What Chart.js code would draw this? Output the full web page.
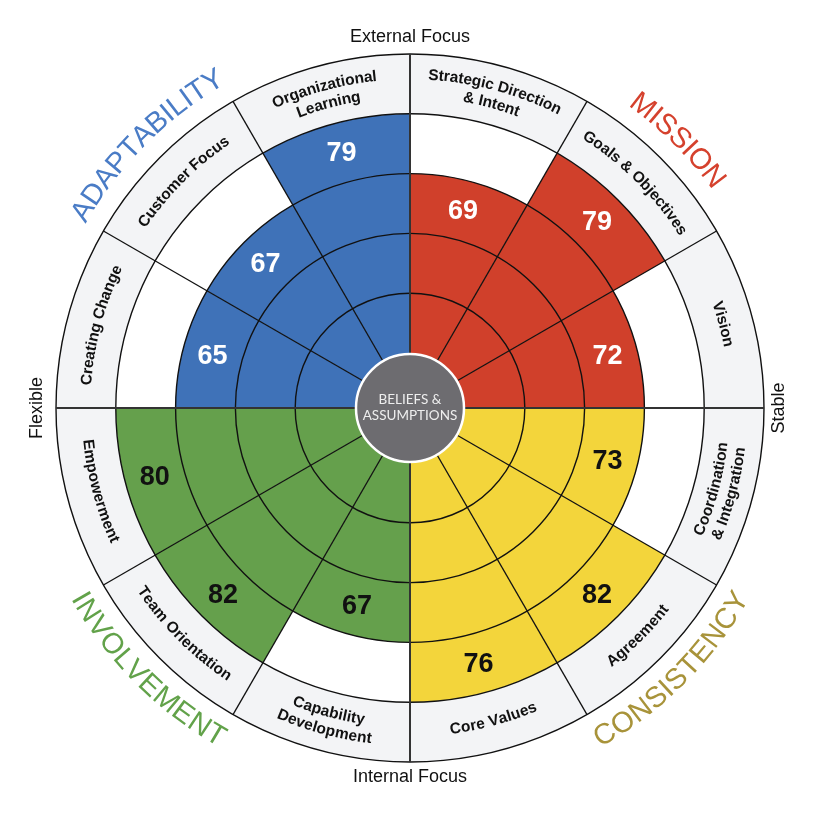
<!DOCTYPE html>
<html>
<head>
<meta charset="utf-8">
<script src="https://cdn.jsdelivr.net/npm/chart.js@4.4.1/dist/chart.umd.min.js"></script>
<style>
  html, body { margin: 0; padding: 0; background: #fff; }
  #wrap { width: 820px; height: 820px; }
</style>
</head>
<body>
<div id="wrap"><canvas id="cultureWheel" width="820" height="820"></canvas></div>
<script>
// Culture profile wheel, clockwise from 12 o'clock
const indexes = [
  ['Strategic Direction', '& Intent'], 'Goals & Objectives', 'Vision',
  ['Coordination', '& Integration'], 'Agreement', 'Core Values',
  ['Capability', 'Development'], 'Team Orientation', 'Empowerment',
  'Creating Change', 'Customer Focus', ['Organizational', 'Learning']
];
const scores = [69, 79, 72, 73, 82, 76, 67, 82, 80, 65, 67, 79];
// quartile ring each score is shaded out to
const reached = [75, 100, 75, 75, 100, 100, 75, 100, 100, 75, 75, 100];
const traits = ['MISSION', 'CONSISTENCY', 'INVOLVEMENT', 'ADAPTABILITY'];
const quartiles = [25, 50, 75, 100];
const bandTop = 125;
const axisNames = ['External Focus', 'Stable', 'Internal Focus', 'Flexible'];

const fillColors = ['#d0402b', '#f3d53b', '#65a04c', '#3f72b8'];
const traitColors = ['#d5412d', '#a8933a', '#62a24a', '#4a7cc6'];
const numberColors = ['#ffffff', '#111111', '#111111', '#ffffff'];

function arcText(ctx, text, cx, cy, r, mid, inward) {
  // mid: angle clockwise from 12 o'clock
  const chars = [...text];
  const widths = chars.map(ch => ctx.measureText(ch).width);
  const total = widths.reduce((a, b) => a + b, 0);
  let run = 0;
  chars.forEach((ch, i) => {
    const off = (run + widths[i] / 2 - total / 2) / r;
    const a = inward ? mid - off : mid + off;
    ctx.save();
    ctx.translate(cx + r * Math.sin(a), cy - r * Math.cos(a));
    ctx.rotate(inward ? a + Math.PI : a);
    ctx.fillText(ch, 0, 0);
    ctx.restore();
    run += widths[i];
  });
}

const wheelDecor = {
  id: 'wheelDecor',
  afterDraw(chart) {
    const ctx = chart.ctx;
    const scale = chart.scales.r;
    const cx = scale.xCenter, cy = scale.yCenter;
    const meta = chart.getDatasetMeta(0);
    ctx.save();
    ctx.textAlign = 'center';
    ctx.textBaseline = 'middle';

    // score numbers
    ctx.font = 'bold 27px "Liberation Sans", Arial, sans-serif';
    meta.data.forEach((arc, i) => {
      const a = (arc.startAngle + arc.endAngle) / 2;
      const d = scale.getDistanceFromCenterForValue(reached[i] - 12.5);
      ctx.fillStyle = numberColors[Math.floor(i / 3)];
      ctx.fillText(String(scores[i]), cx + d * Math.cos(a), cy + d * Math.sin(a) + 1);
    });

    // index names in the outer band
    const rIn = scale.getDistanceFromCenterForValue(100);
    const rOut = scale.getDistanceFromCenterForValue(bandTop);
    const rMid = (rIn + rOut) / 2;
    ctx.font = 'bold 15.5px "Liberation Sans", Arial, sans-serif';
    ctx.fillStyle = '#111';
    meta.data.forEach((arc, i) => {
      const mid = (arc.startAngle + arc.endAngle) / 2 + Math.PI / 2;
      const deg = (mid * 180 / Math.PI + 360) % 360;
      const inward = deg > 90 && deg < 270;
      const lines = Array.isArray(indexes[i]) ? indexes[i] : [indexes[i]];
      const gap = 18;
      lines.forEach((line, k) => {
        const shift = (lines.length - 1) / 2 * gap - k * gap;
        const r = inward ? rMid - shift : rMid + shift;
        arcText(ctx, line, cx, cy, r, mid, inward);
      });
    });

    // trait names outside the wheel
    ctx.font = '29px "Liberation Sans", Arial, sans-serif';
    traits.forEach((t, q) => {
      const mid = (q * 90 + 45) * Math.PI / 180;
      ctx.fillStyle = traitColors[q];
      arcText(ctx, t, cx, cy, rOut + 27, mid, q === 1 || q === 2);
    });

    // centre disc
    const r0 = scale.getDistanceFromCenterForValue(0) - 1;
    ctx.beginPath();
    ctx.arc(cx, cy, r0, 0, Math.PI * 2);
    ctx.fillStyle = '#6d6c70';
    ctx.fill();
    ctx.lineWidth = 2.5;
    ctx.strokeStyle = '#ffffff';
    ctx.stroke();
    ctx.fillStyle = '#eeeeee';
    ctx.font = '13.5px Lato, "Open Sans", sans-serif';
    ctx.fillText('BELIEFS &', cx, cy - 8);
    ctx.fillText('ASSUMPTIONS', cx, cy + 8);

    // focus axis names
    ctx.fillStyle = '#111';
    ctx.font = '18px "Liberation Sans", Arial, sans-serif';
    ctx.fillText(axisNames[0], cx, 37);
    ctx.fillText(axisNames[2], cx, 777);
    ctx.save();
    ctx.translate(37, cy);
    ctx.rotate(-Math.PI / 2);
    ctx.fillText(axisNames[3], 0, 0);
    ctx.restore();
    ctx.save();
    ctx.translate(779, cy);
    ctx.rotate(-Math.PI / 2);
    ctx.fillText(axisNames[1], 0, 0);
    ctx.restore();
    ctx.restore();
  }
};

new Chart(document.getElementById('cultureWheel'), {
  type: 'polarArea',
  data: {
    labels: indexes.map(l => Array.isArray(l) ? l.join(' ') : l),
    datasets: [{
      data: reached,
      backgroundColor: reached.map((_, i) => fillColors[Math.floor(i / 3)]),
      borderWidth: 0
    }, {
      data: indexes.map(() => 100),
      backgroundColor: '#ffffff',
      borderWidth: 0
    }, {
      data: indexes.map(() => bandTop),
      backgroundColor: '#f3f4f6',
      borderWidth: 0
    }]
  },
  options: {
    responsive: false,
    animation: false,
    layout: { padding: { top: 54, bottom: 58, left: 56, right: 56 } },
    plugins: { legend: { display: false }, tooltip: { enabled: false } },
    scales: {
      r: {
        min: -23,
        max: bandTop,
        startAngle: 0,
        ticks: { display: false },
        pointLabels: { display: false },
        afterBuildTicks: (s) => {
          s.ticks = [-23, ...quartiles, bandTop].map(v => ({ value: v }));
        },
        grid: { z: 1, circular: true, color: '#111', lineWidth: 1.4 },
        angleLines: {
          display: true,
          color: (c) => c.index % 3 === 0 ? '#333' : '#111',
          lineWidth: (c) => c.index % 3 === 0 ? 2 : 1.3
        }
      }
    }
  },
  plugins: [wheelDecor]
});
</script>
</body>
</html>
